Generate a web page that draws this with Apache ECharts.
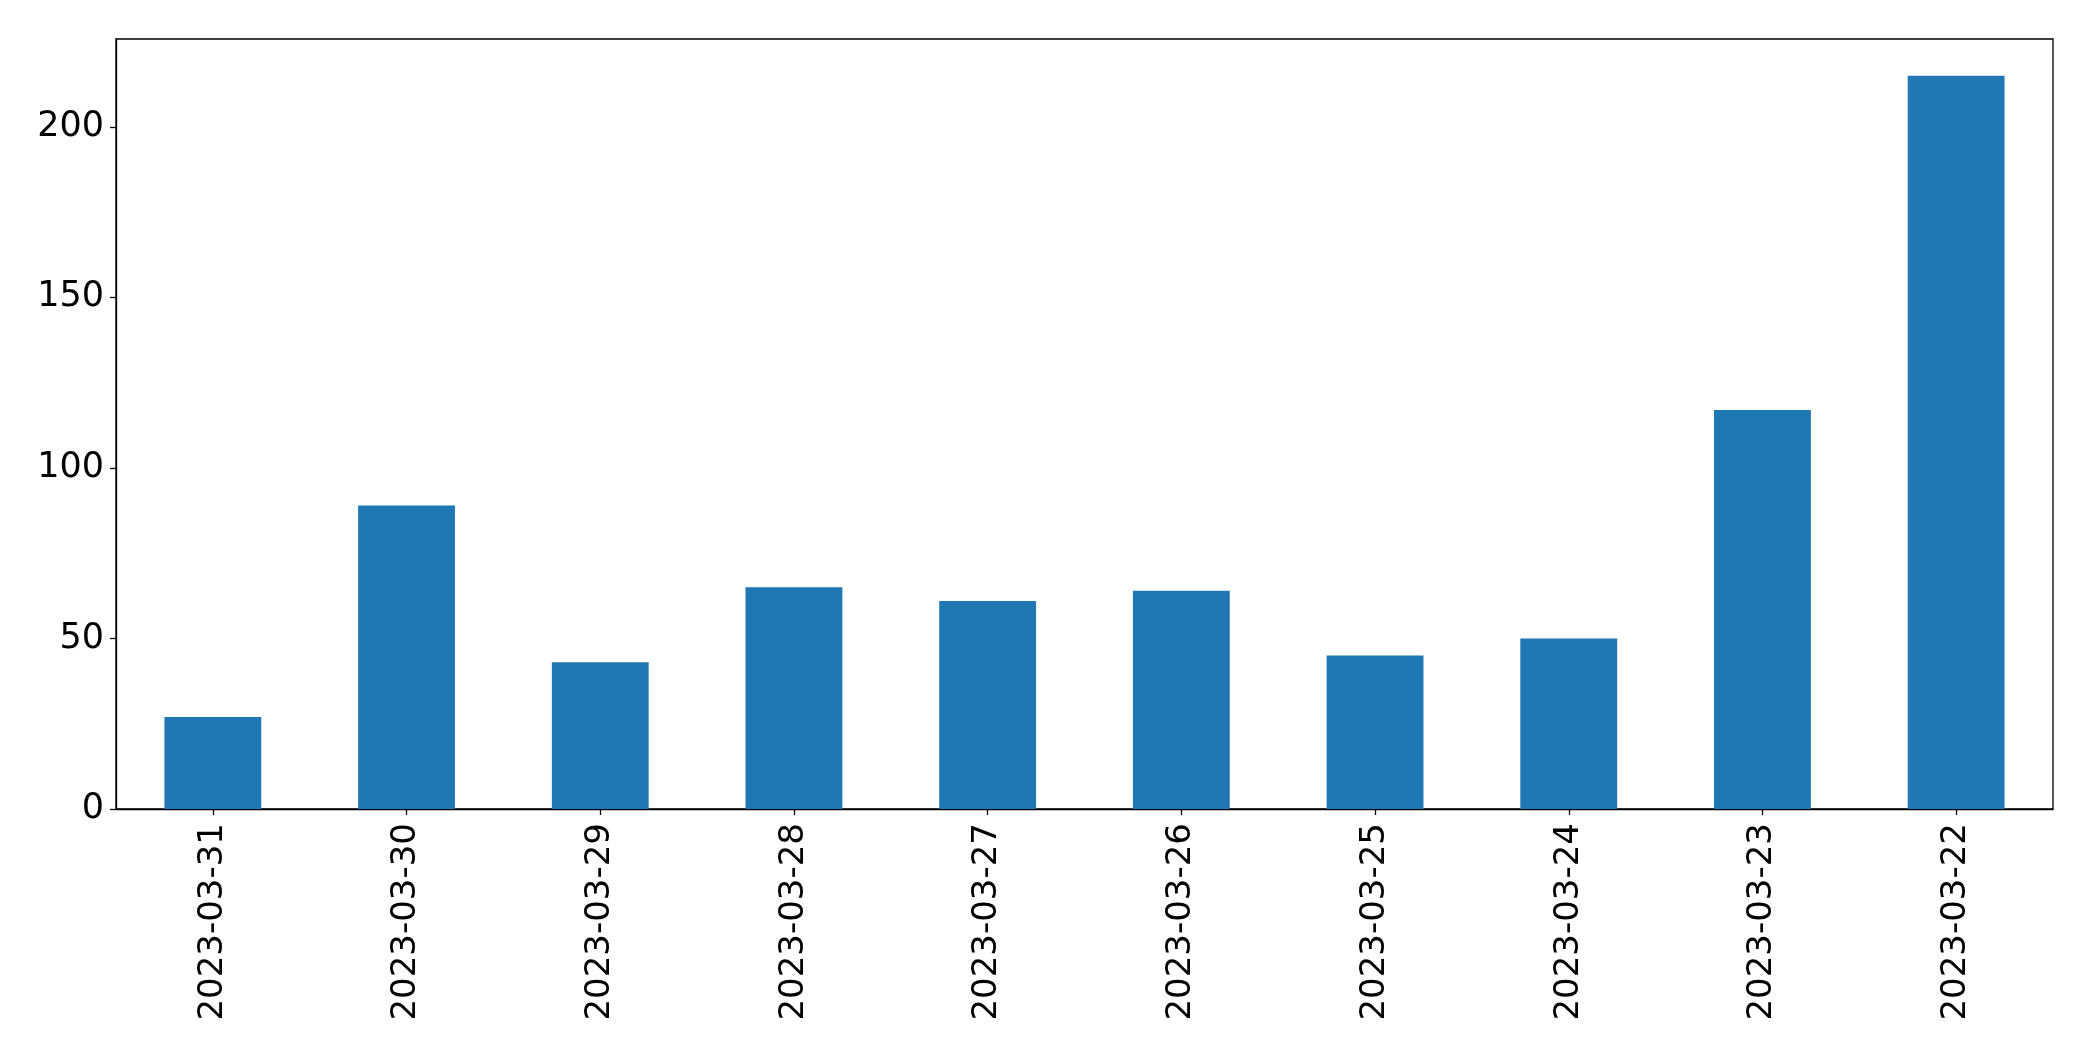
<!DOCTYPE html>
<html>
<head>
<meta charset="utf-8">
<script src="https://cdn.jsdelivr.net/npm/echarts@6/dist/echarts.min.js"></script>
<style>
html,body{margin:0;padding:0;background:#fff;}
#chart{width:2093px;height:1061px;}
</style>
</head>
<body>
<div id="chart"></div>
<script>
const categories = ["2023-03-31","2023-03-30","2023-03-29","2023-03-28","2023-03-27","2023-03-26","2023-03-25","2023-03-24","2023-03-23","2023-03-22"];
const values = [27, 89, 43, 65, 61, 64, 45, 50, 117, 215];
const yTicks = [0, 50, 100, 150, 200];

const chart = echarts.init(document.getElementById('chart'), null, {renderer: 'canvas'});
const font = 'DejaVu Sans';
chart.setOption({
  animation: false,
  backgroundColor: '#ffffff',
  grid: {left: 116, right: 40, top: 39, bottom: 252, show: true, borderColor: '#000', borderWidth: 1.3, containLabel: false},
  xAxis: {
    type: 'category',
    data: categories,
    axisLine: {show: true, lineStyle: {color: '#000', width: 1.3}},
    axisTick: {show: true, alignWithLabel: true, length: 6, lineStyle: {color: '#000', width: 1.3}},
    axisLabel: {rotate: 90, color: '#000', fontFamily: font, fontSize: 34, margin: 14, interval: 0},
    splitLine: {show: false}
  },
  yAxis: {
    type: 'value',
    min: 0,
    max: 225.75,
    interval: 50,
    axisLine: {show: true, lineStyle: {color: '#000', width: 1.3}},
    axisTick: {show: true, length: 6, customValues: yTicks, lineStyle: {color: '#000', width: 1.3}},
    axisLabel: {color: '#000', fontFamily: font, fontSize: 35, margin: 12, customValues: yTicks,
      formatter: function(v){ return yTicks.indexOf(v) >= 0 ? String(v) : ''; }},
    splitLine: {show: false}
  },
  series: [{
    type: 'bar',
    data: values,
    barWidth: '50%',
    itemStyle: {color: '#1f77b4'}
  }]
});
</script>
</body>
</html>
